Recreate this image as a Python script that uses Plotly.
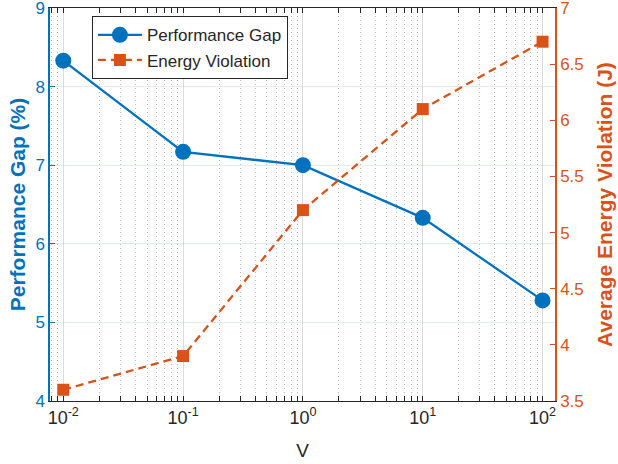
import numpy as np
import plotly.graph_objects as go

V = [0.01, 0.1, 1, 10, 100]
perf_gap = [8.33, 7.17, 7.0, 6.33, 5.28]
energy_violation = [3.6, 3.9, 5.2, 6.1, 6.7]
x_tick_vals = [0.01, 0.1, 1, 10, 100]
x_tick_text = ["10<sup>-2</sup>", "10<sup>-1</sup>", "10<sup>0</sup>", "10<sup>1</sup>", "10<sup>2</sup>"]
y1_ticks = [4, 5, 6, 7, 8, 9]
y2_ticks = [3.5, 4, 4.5, 5, 5.5, 6, 6.5, 7]

BLUE = "#0072BD"
ORANGE = "#D95319"
FONT = "Liberation Sans, Arial, sans-serif"

minor_vals = [m * 10.0 ** e for e in range(-3, 3) for m in range(2, 10)]

fig = go.Figure()
fig.add_trace(go.Scatter(
    x=V, y=perf_gap, name="Performance Gap", mode="lines+markers",
    line=dict(color=BLUE, width=2.3),
    marker=dict(symbol="circle", size=16, color=BLUE),
    yaxis="y",
))
fig.add_trace(go.Scatter(
    x=V, y=energy_violation, name="Energy Violation", mode="lines+markers",
    line=dict(color=ORANGE, width=2.3, dash="8px,5px"),
    marker=dict(symbol="square", size=12, color=ORANGE),
    yaxis="y2",
))

fig.update_layout(
    width=618, height=464,
    margin=dict(l=50, r=63, t=8, b=63, autoexpand=False),
    paper_bgcolor="white", plot_bgcolor="white",
    font=dict(family=FONT, size=17, color="#262626"),
    showlegend=True,
    legend=dict(
        x=0.083, y=0.979, xanchor="left", yanchor="top",
        bgcolor="white", bordercolor="#262626", borderwidth=1,
        font=dict(size=17, color="#262626"),
        tracegroupgap=0, itemwidth=44,
    ),
    xaxis=dict(
        type="log", range=[np.log10(0.00775), np.log10(127)],
        tickmode="array", tickvals=x_tick_vals, ticktext=x_tick_text,
        ticks="inside", ticklen=5, tickcolor="#262626", tickwidth=1,
        showline=True, linecolor="#262626", linewidth=1.3, mirror="allticks",
        showgrid=True, gridcolor="#dcdcdc", gridwidth=1,
        minor=dict(tickmode="array", tickvals=minor_vals, ticks="inside", ticklen=3,
                   tickcolor="#262626", showgrid=True, gridcolor="#bdbdbd",
                   griddash="1px,3px", gridwidth=1),
        title=dict(text="V", font=dict(size=19, color="#262626"), standoff=16),
        tickfont=dict(size=18, color="#262626"),
        zeroline=False, automargin=False, ticklabeloverflow="allow",
    ),
    yaxis=dict(
        range=[3.9999, 9.0001], tickmode="array", tickvals=y1_ticks,
        ticks="inside", ticklen=5, tickcolor=BLUE,
        showline=True, linecolor=BLUE, linewidth=1.5,
        showgrid=True, gridcolor="rgba(0,114,189,0.13)", gridwidth=1,
        tickfont=dict(size=17, color=BLUE),
        title=dict(text="<b>Performance Gap (%)</b>", font=dict(size=21, color=BLUE), standoff=4),
        zeroline=False, automargin=False, ticklabeloverflow="allow",
    ),
    yaxis2=dict(
        range=[3.4999, 7.0001], tickmode="array", tickvals=y2_ticks,
        overlaying="y", side="right", anchor="x",
        ticks="inside", ticklen=5, tickcolor=ORANGE,
        showline=True, linecolor=ORANGE, linewidth=1.5,
        showgrid=False,
        tickfont=dict(size=17, color=ORANGE),
        title=dict(text="<b>Average Energy Violation (J)</b>", font=dict(size=21, color=ORANGE), standoff=15),
        zeroline=False, automargin=False, ticklabeloverflow="allow",
    ),
)

fig.write_html("out.html", config={"displayModeBar": False},
               post_script="document.body.style.margin='0px';")
